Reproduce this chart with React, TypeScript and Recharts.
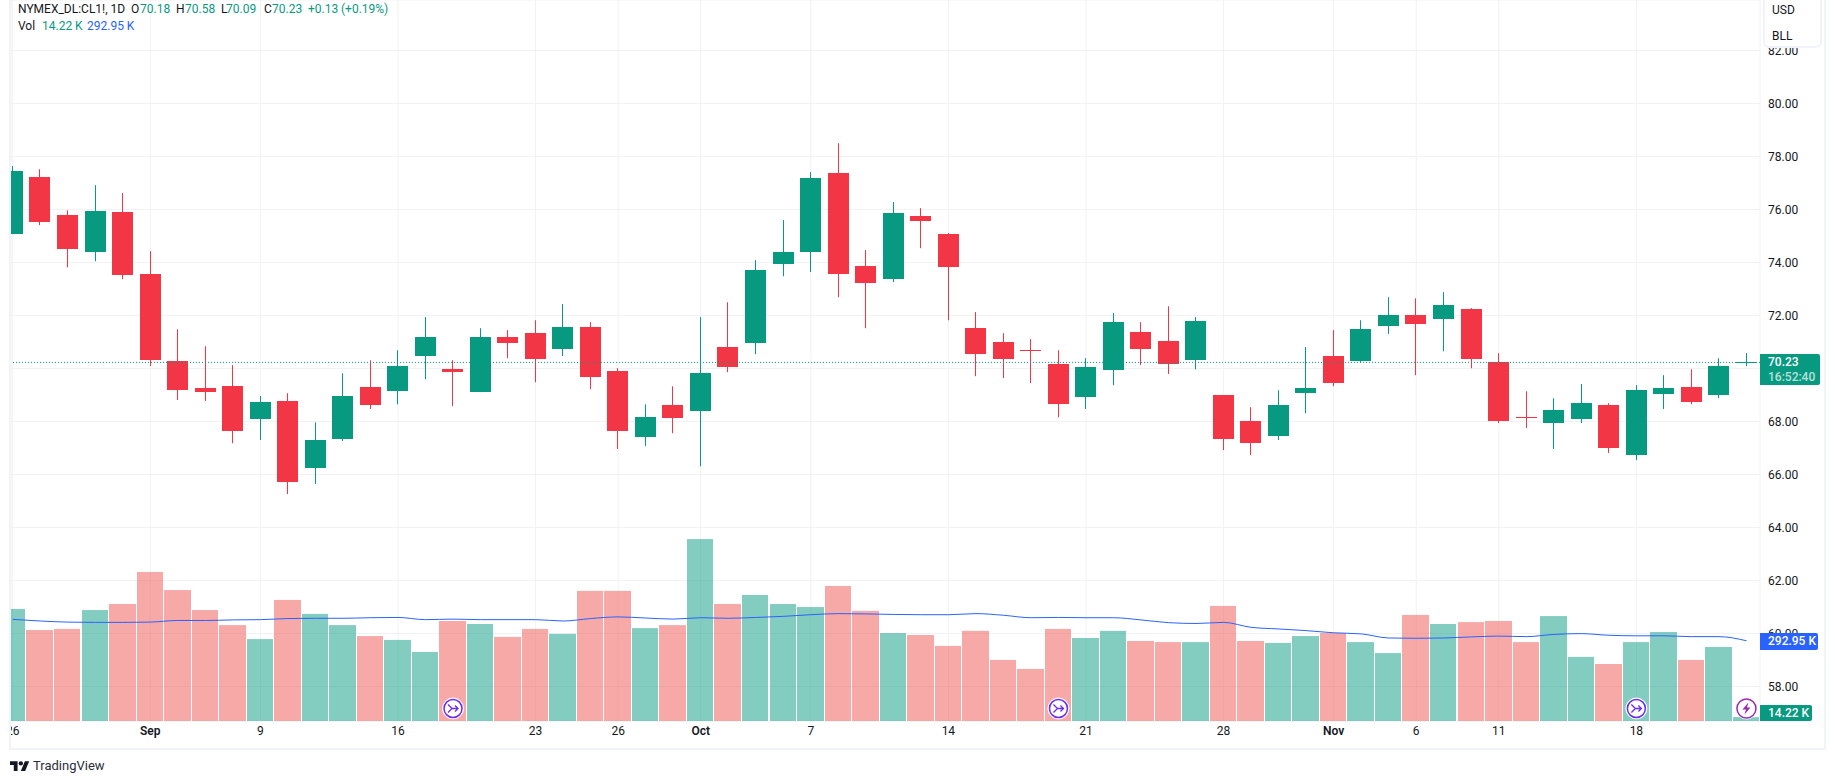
import { Bar, CartesianGrid, Cell, ComposedChart, Line, ReferenceDot, ReferenceLine, XAxis, YAxis } from "recharts";

const opens = [75.07, 77.22, 75.79, 74.39, 75.9, 73.56, 70.28, 69.26, 69.33, 68.09, 68.77, 66.24, 67.33, 69.3, 69.14, 70.47, 69.97, 69.11, 71.18, 71.33, 70.73, 71.56, 69.9, 67.41, 68.62, 68.39, 70.81, 70.96, 73.94, 74.39, 77.37, 73.86, 73.37, 75.75, 75.07, 71.52, 70.99, 70.69, 70.16, 68.92, 69.94, 71.37, 71.03, 70.31, 68.99, 68.01, 67.45, 69.07, 70.47, 70.28, 71.6, 72.01, 71.86, 72.24, 70.24, 68.16, 67.94, 68.09, 68.62, 66.73, 69.03, 69.3, 68.99, 70.18];
const highs = [77.64, 77.52, 75.97, 76.92, 76.62, 74.43, 71.48, 70.84, 70.13, 68.96, 69.07, 67.97, 69.82, 70.31, 70.69, 71.94, 70.31, 71.52, 71.45, 71.82, 72.43, 71.75, 70.01, 68.65, 69.33, 71.94, 72.5, 74.09, 75.6, 77.41, 78.5, 74.47, 76.28, 76.05, 75.11, 72.13, 71.33, 71.11, 70.69, 70.39, 72.09, 71.75, 72.35, 71.94, 69.0, 68.54, 69.18, 70.81, 71.45, 71.82, 72.69, 72.65, 72.88, 72.28, 70.58, 69.14, 68.88, 69.41, 68.69, 69.37, 69.75, 69.97, 70.39, 70.58];
const lows = [75.07, 75.41, 73.82, 74.05, 73.37, 70.09, 68.81, 68.77, 67.18, 67.3, 65.26, 65.64, 67.26, 68.47, 68.65, 69.6, 68.58, 69.11, 70.39, 69.48, 70.47, 69.22, 66.96, 67.07, 67.56, 66.31, 69.86, 70.54, 73.48, 73.64, 72.69, 71.52, 73.26, 74.54, 71.82, 69.71, 69.64, 69.45, 68.16, 68.47, 69.37, 70.13, 69.79, 69.97, 66.92, 66.73, 67.3, 68.31, 69.33, 70.24, 71.3, 69.75, 70.65, 70.01, 67.94, 67.75, 66.96, 67.94, 66.81, 66.54, 68.47, 68.65, 68.88, 70.09];
const closes = [77.45, 75.52, 74.5, 75.94, 73.52, 70.31, 69.18, 69.11, 67.64, 68.73, 65.71, 67.3, 68.96, 68.62, 70.09, 71.18, 69.86, 71.18, 70.96, 70.35, 71.56, 69.67, 67.64, 68.16, 68.13, 69.82, 70.05, 73.71, 74.39, 77.18, 73.56, 73.22, 75.86, 75.56, 73.82, 70.54, 70.35, 70.65, 68.65, 70.05, 71.75, 70.73, 70.16, 71.79, 67.33, 67.18, 68.62, 69.26, 69.45, 71.48, 72.01, 71.67, 72.39, 70.35, 68.01, 68.13, 68.43, 68.69, 66.99, 69.18, 69.26, 68.73, 70.09, 70.23];
const volumes = [409, 332, 336, 405, 427, 544, 478, 405, 350, 299, 442, 391, 350, 310, 296, 252, 365, 354, 307, 336, 318, 475, 475, 339, 350, 664, 427, 460, 427, 416, 493, 402, 321, 314, 274, 329, 223, 190, 336, 303, 329, 292, 288, 288, 420, 292, 285, 310, 321, 288, 248, 387, 354, 361, 365, 288, 383, 234, 208, 288, 325, 223, 270, 14.22];
const volumeMa = [371, 365, 361, 360, 360, 361, 367, 367, 369, 370, 374, 375, 375, 377, 378, 370, 372, 370, 370, 370, 365, 374, 380, 376, 372, 377, 375, 378, 382, 388, 392, 391, 389, 388, 388, 392, 386, 377, 378, 377, 377, 369, 359, 356, 360, 342, 336, 330, 322, 318, 303, 302, 303, 307, 310, 308, 316, 319, 313, 311, 311, 308, 308, 292.95];

const tickSlots = [0, 5, 9, 14, 19, 22, 25, 29, 34, 39, 44, 48, 51, 54, 59];
const tickLabels = ["26", "Sep", "9", "16", "23", "26", "Oct", "7", "14", "21", "28", "Nov", "6", "11", "18"];
const priceTicks = [58, 60, 62, 64, 66, 68, 70, 72, 74, 76, 78, 80, 82];
const splitSlots = [16, 38, 59];
const dividendSlot = 63;
const lastPrice = 70.23;

const UP = "#089981";
const DOWN = "#F23645";
const FONT = "Roboto, sans-serif";
const FRAME = "#F0F3FA";
const TEXT = "#131722";
const BLUE = "#2962FF";

const data = opens.map((open, i) => ({
  slot: i,
  open,
  high: highs[i],
  low: lows[i],
  close: closes[i],
  volume: volumes[i],
  volumeMa: volumeMa[i],
}));

function Candle(props: any) {
  const { x, y, width, height, payload } = props;
  const up = payload.close >= payload.open;
  const color = up ? UP : DOWN;
  const perUnit = height / (payload.high - payload.low);
  const left = Math.round(x + width / 2 - 10.5);
  const top = Math.round(y + (payload.high - Math.max(payload.open, payload.close)) * perUnit);
  const bodyH = Math.max(1, Math.round(Math.abs(payload.open - payload.close) * perUnit));
  return (
    <g>
      <rect x={left + 10} y={y} width={1} height={height} fill={color} />
      <rect x={left} y={top} width={21} height={bodyH} fill={color} />
    </g>
  );
}

function VolumeBar(props: any) {
  const { x, y, width, height, fill } = props;
  const left = Math.round(x);
  const right = Math.round(x + width) - 1;
  return <rect x={left} y={y} width={right - left} height={height} fill={fill} />;
}

function TimeTick(props: any) {
  const { x, y, payload } = props;
  const label = tickLabels[tickSlots.indexOf(payload.value)];
  const month = label === "Sep" || label === "Oct" || label === "Nov";
  return (
    <text x={x} y={y} dy={4} textAnchor="middle" fontFamily={FONT} fontSize={12} fontWeight={month ? 600 : 400} fill={TEXT}>
      {label}
    </text>
  );
}

function SplitIcon(props: any) {
  const { cx } = props;
  const c = "#6B2CF5";
  return (
    <g transform={`translate(${cx},708.5)`}>
      <circle r={10.5} fill="#fff" stroke="#fff" />
      <circle r={9} fill="#fff" stroke={c} strokeWidth={1.5} />
      <path d="M-5 -4 L-1 0 L-5 4 M-1 0 H5 M2 -3 L5 0 L2 3" fill="none" stroke={c} strokeWidth={1.3} />
    </g>
  );
}

function BoltIcon(props: any) {
  const { cx } = props;
  const c = "#9C27B0";
  return (
    <g transform={`translate(${cx},708.5)`}>
      <circle r={10.5} fill="#fff" stroke="#fff" />
      <circle r={9.5} fill="#fff" stroke={c} strokeWidth={1.5} />
      <path d="M2 -6 L-4 1 H-0.5 L-2 6 L4 -1 H0.5 Z" fill={c} />
    </g>
  );
}

function Label({ x, y, color = TEXT, children }: any) {
  return (
    <span style={{ position: "absolute", left: x, top: y - 8, lineHeight: "16px", fontSize: 12, color, whiteSpace: "nowrap" }}>
      {children}
    </span>
  );
}

function Tag({ top, width, height, bg, children }: any) {
  return (
    <div
      style={{
        position: "absolute",
        left: 1760,
        top,
        width,
        height,
        background: bg,
        color: "#fff",
        fontSize: 12,
        fontWeight: 500,
        paddingLeft: 8,
        boxSizing: "border-box",
        borderRadius: "0 2px 2px 0",
      }}
    >
      {children}
    </div>
  );
}

export default function App() {
  return (
    <div style={{ position: "absolute", left: 0, top: 0, width: 1835, height: 784, background: "#fff", overflow: "hidden", fontFamily: FONT }}>
      <ComposedChart width={1835} height={784} data={data} margin={{ top: 0, right: 10, bottom: 35, left: 11 }}>
        <CartesianGrid xAxisId="price" yAxisId="price" stroke="#F1F2F4" strokeWidth={1} />
        <XAxis
          xAxisId="price"
          type="number"
          dataKey="slot"
          domain={[-0.062, 63.492]}
          allowDataOverflow
          ticks={tickSlots}
          interval={0}
          height={28}
          axisLine={false}
          tickLine={false}
          tick={<TimeTick />}
          tickSize={0}
          tickMargin={10}
        />
        <XAxis xAxisId="vol" type="number" dataKey="slot" domain={[-0.062, 63.492]} allowDataOverflow hide />
        <YAxis
          yAxisId="price"
          orientation="right"
          domain={[56.698, 83.906]}
          allowDataOverflow
          ticks={priceTicks}
          interval={0}
          width={65}
          axisLine={false}
          tickLine={false}
          tickSize={0}
          tickMargin={8}
          tick={{ fontFamily: FONT, fontSize: 12, fill: TEXT }}
          tickFormatter={(v: number) => (v === 70 ? "" : v.toFixed(2))}
        />
        <YAxis yAxisId="vol" orientation="right" domain={[0, 2632]} allowDataOverflow hide />
        <Bar xAxisId="vol" yAxisId="vol" dataKey="volume" barSize={27.5} shape={<VolumeBar />} isAnimationActive={false}>
          {data.map((d) => (
            <Cell key={d.slot} fill={d.close >= d.open ? "rgba(8,153,129,0.5)" : "rgba(239,83,80,0.5)"} />
          ))}
        </Bar>
        <Line xAxisId="vol" yAxisId="vol" type="monotone" dataKey="volumeMa" stroke={BLUE} strokeWidth={1} dot={false} isAnimationActive={false} />
        <ReferenceLine xAxisId="price" yAxisId="price" y={lastPrice} stroke={UP} strokeWidth={1} strokeDasharray="1 2" />
        <Bar xAxisId="price" yAxisId="price" dataKey={(d: any) => [d.low, d.high]} barSize={21} shape={<Candle />} isAnimationActive={false} />
        {splitSlots.map((s) => (
          <ReferenceDot key={s} xAxisId="vol" yAxisId="vol" x={s} y={46} shape={<SplitIcon />} />
        ))}
        <ReferenceDot xAxisId="vol" yAxisId="vol" x={dividendSlot} y={46} shape={<BoltIcon />} />
      </ComposedChart>

      {/* frame */}
      <div style={{ position: "absolute", left: 0, top: 721, width: 9, height: 30, background: "#fff" }} />
      <div style={{ position: "absolute", left: 9, top: 0, width: 2, height: 750, background: FRAME }} />
      <div style={{ position: "absolute", left: 1824, top: 0, width: 2, height: 750, background: FRAME }} />
      <div style={{ position: "absolute", left: 9, top: 748, width: 1817, height: 2, background: FRAME }} />

      {/* header */}
      <Label x={18} y={9}>NYMEX_DL:CL1!, 1D</Label>
      <Label x={131}  y={9}>O</Label>
      <Label x={140} y={9} color={UP}>70.18</Label>
      <Label x={176} y={9}>H</Label>
      <Label x={185} y={9} color={UP}>70.58</Label>
      <Label x={221} y={9}>L</Label>
      <Label x={226} y={9} color={UP}>70.09</Label>
      <Label x={264} y={9}>C</Label>
      <Label x={272} y={9} color={UP}>70.23</Label>
      <Label x={308} y={9} color={UP}>+0.13</Label>
      <Label x={341} y={9} color={UP}>(+0.19%)</Label>
      <Label x={18} y={26}>Vol</Label>
      <Label x={42} y={26} color={UP}>14.22 K</Label>
      <Label x={87} y={26} color={BLUE}>292.95 K</Label>

      {/* currency/unit panel */}
      <div
        style={{
          position: "absolute",
          left: 1763,
          top: -10,
          width: 59,
          height: 58,
          background: "#fff",
          border: `2px solid ${FRAME}`,
          borderRadius: 6,
          boxSizing: "border-box",
        }}
      />
      <Label x={1772} y={10}>USD</Label>
      <Label x={1772} y={36}>BLL</Label>

      {/* price tags */}
      <Tag top={354} width={60} height={31} bg={UP}>
        <div style={{ lineHeight: "15px", marginTop: 1 }}>70.23</div>
        <div style={{ lineHeight: "15px", opacity: 0.7 }}>16:52:40</div>
      </Tag>
      <Tag top={633} width={58} height={17} bg={BLUE}>
        <div style={{ lineHeight: "17px" }}>292.95 K</div>
      </Tag>
      <Tag top={705} width={52} height={16} bg={UP}>
        <div style={{ lineHeight: "16px" }}>14.22 K</div>
      </Tag>

      {/* logo */}
      <svg style={{ position: "absolute", left: 10, top: 761 }} width={19.5} height={10} viewBox="0 4 36 18">
        <path d="M14 22H7V11H0V4h14v18zM28 22h-8l7.5-18h8L28 22z" fill={TEXT} />
        <circle cx={20} cy={8} r={4} fill={TEXT} />
      </svg>
      <span style={{ position: "absolute", left: 33, top: 757, lineHeight: "18px", fontSize: 13, color: "#2A2E39" }}>TradingView</span>
    </div>
  );
}
